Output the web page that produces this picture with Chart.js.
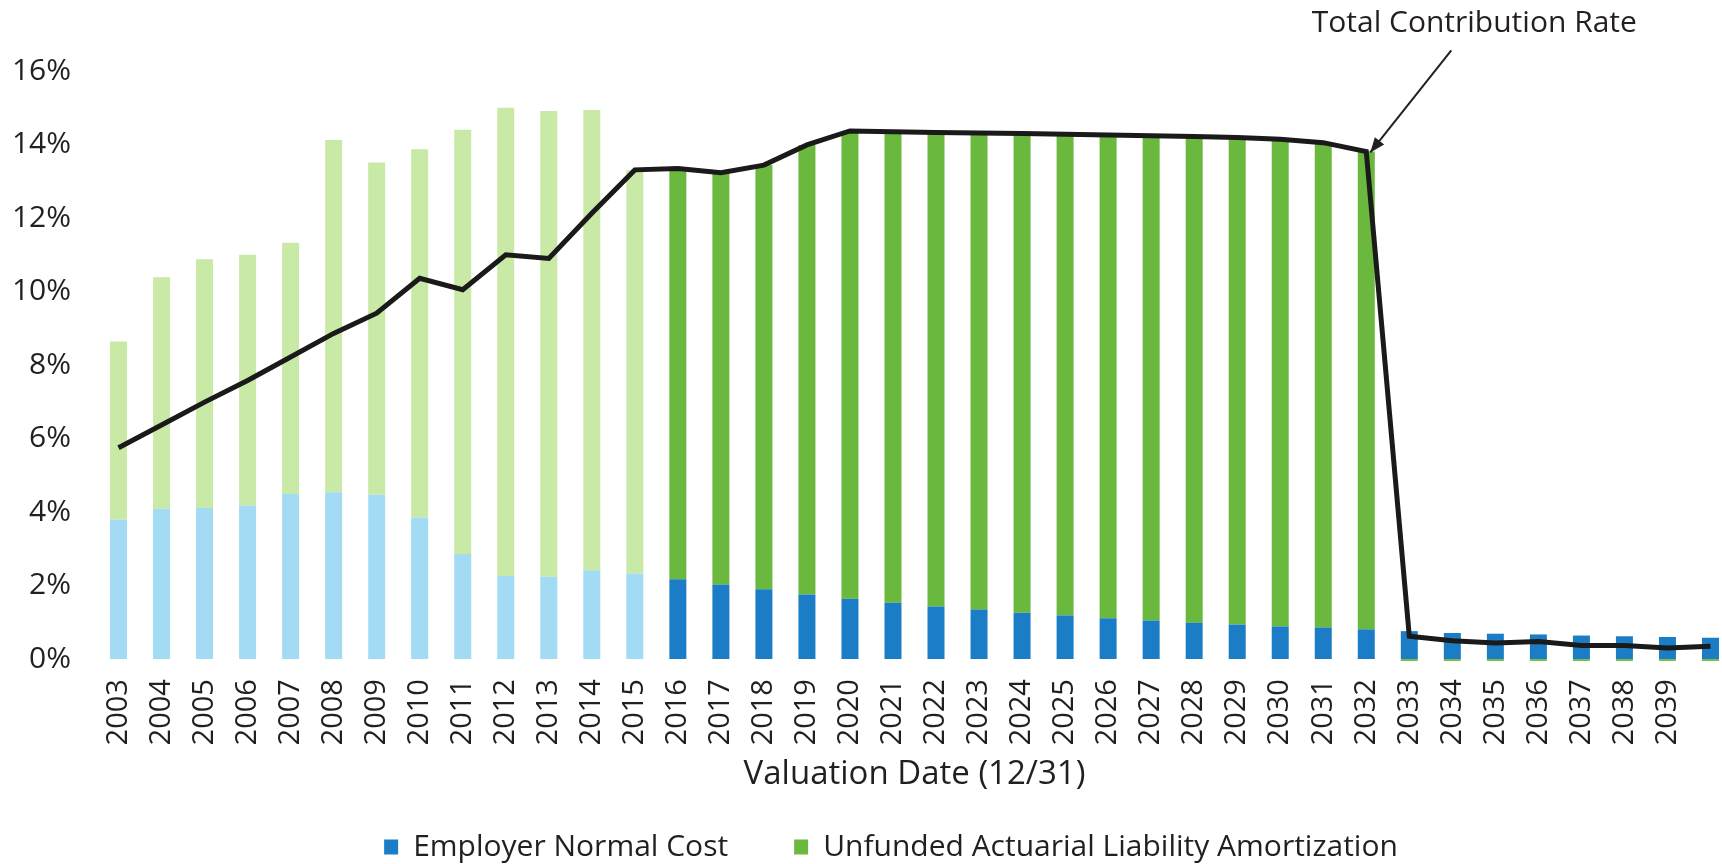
<!DOCTYPE html>
<html>
<head>
<meta charset="utf-8">
<script src="https://cdn.jsdelivr.net/npm/chart.js@4.4.1/dist/chart.umd.min.js"></script>
<style>
  html, body { margin: 0; padding: 0; background: #fff; overflow: hidden; }
</style>
</head>
<body>
<canvas id="myChart" width="1732" height="864"></canvas>
<script>
'use strict';

// valuation years (last bar has no label in the original)
let years = ['2003', '2004', '2005', '2006', '2007', '2008', '2009', '2010', '2011', '2012',
  '2013', '2014', '2015', '2016', '2017', '2018', '2019', '2020', '2021', '2022',
  '2023', '2024', '2025', '2026', '2027', '2028', '2029', '2030', '2031', '2032',
  '2033', '2034', '2035', '2036', '2037', '2038', '2039', ''];

// % of pay
let normalCost = [3.79, 4.09, 4.11, 4.18, 4.49, 4.54, 4.47, 3.85, 2.86, 2.26,
  2.24, 2.42, 2.33, 2.17, 2.03, 1.90, 1.76, 1.64, 1.53, 1.43,
  1.35, 1.26, 1.19, 1.11, 1.05, 0.99, 0.94, 0.89, 0.86, 0.81,
  0.76, 0.71, 0.69, 0.67, 0.64, 0.62, 0.60, 0.58];

// after 2032 the amortization is a tiny sliver below zero
let ualAmortization = [4.85, 6.30, 6.77, 6.82, 6.84, 9.58, 9.04, 10.02, 11.54, 12.74,
  12.67, 12.52, 10.97, 11.18, 11.20, 11.54, 12.23, 12.73, 12.82, 12.90,
  12.96, 13.04, 13.09, 13.15, 13.19, 13.23, 13.25, 13.25, 13.19, 13.00,
  -0.05, -0.05, -0.05, -0.05, -0.05, -0.05, -0.05, -0.05];

let totalRate = [5.75, 6.37, 6.99, 7.58, 8.22, 8.86, 9.41, 10.36, 10.05, 11.00,
  10.90, 12.13, 13.31, 13.35, 13.23, 13.44, 13.99, 14.37, 14.35, 14.33,
  14.31, 14.30, 14.28, 14.26, 14.24, 14.22, 14.19, 14.14, 14.05, 13.81,
  0.62, 0.50, 0.44, 0.48, 0.37, 0.37, 0.30, 0.35];

let yTicks = [0, 2, 4, 6, 8, 10, 12, 14, 16];

// first 13 years (2003-2015) are historical and drawn in lighter shades
let historicalYears = 13;
let annotationText = 'Total Contribution Rate';

let fontFamily = '"Open Sans", "Noto Sans", sans-serif';
let textColor = '#231f20';

function shade(light, dark) {
  let colors = [];
  for (let i = 0; i < years.length; i++) {
    colors.push(i < historicalYears ? light : dark);
  }
  return colors;
}

// draws the "Total Contribution Rate" label with an arrow to the 2032 point
let arrowNote = {
  id: 'arrowNote',
  afterDatasetsDraw(chart) {
    let ctx = chart.ctx;
    let x = chart.scales.x;
    let y = chart.scales.y;
    let idx = years.indexOf('2032');
    let tipX = x.getPixelForValue(idx) + 4;
    let tipY = y.getPixelForValue(totalRate[idx]) + 1;
    let startX = tipX + 81;
    let startY = tipY - 102;

    ctx.save();
    ctx.strokeStyle = '#231f20';
    ctx.fillStyle = '#231f20';
    ctx.lineWidth = 2;
    ctx.beginPath();
    ctx.moveTo(startX, startY);
    ctx.lineTo(tipX, tipY);
    ctx.stroke();

    // arrow head
    let angle = Math.atan2(tipY - startY, tipX - startX);
    let len = 16;
    let spread = 0.38;
    ctx.beginPath();
    ctx.moveTo(tipX, tipY);
    ctx.lineTo(tipX - len * Math.cos(angle - spread), tipY - len * Math.sin(angle - spread));
    ctx.lineTo(tipX - len * Math.cos(angle + spread), tipY - len * Math.sin(angle + spread));
    ctx.closePath();
    ctx.fill();

    ctx.font = '30px ' + fontFamily;
    ctx.textAlign = 'center';
    ctx.textBaseline = 'middle';
    ctx.fillText(annotationText, tipX + 104, 23);
    ctx.restore();
  }
};

// the original legend sits a little right of the canvas centre
let legendNudge = {
  id: 'legendNudge',
  afterLayout(chart) {
    chart.legend.left += 25;
    chart.legend.right += 25;
  }
};

const ctx = document.getElementById('myChart');

new Chart(ctx, {
  type: 'bar',
  data: {
    labels: years,
    datasets: [
      {
        type: 'line',
        label: annotationText,
        data: totalRate,
        borderColor: '#1a1a1a',
        borderWidth: 5,
        pointRadius: 0,
        tension: 0,
        fill: false,
        stack: 'total',
        order: 0
      },
      {
        label: 'Employer Normal Cost',
        data: normalCost,
        backgroundColor: shade('#a2dbf3', '#1a7dc5'),
        stack: 'rate',
        order: 1
      },
      {
        label: 'Unfunded Actuarial Liability Amortization',
        data: ualAmortization,
        backgroundColor: shade('#c9e9a6', '#6bb83e'),
        stack: 'rate',
        clip: false,
        order: 2
      }
    ]
  },
  options: {
    responsive: false,
    animation: false,
    layout: { padding: { top: 71, left: 0, right: 0, bottom: -8 } },
    datasets: {
      bar: { barPercentage: 0.395, categoryPercentage: 1 }
    },
    plugins: {
      tooltip: { enabled: false },
      legend: {
        position: 'bottom',
        labels: {
          generateLabels: chart => {
            let sets = chart.data.datasets;
            return [1, 2].map(i => ({
              text: sets[i].label,
              fillStyle: sets[i].backgroundColor[years.length - 9],
              strokeStyle: 'rgba(0,0,0,0)',
              lineWidth: 0,
              fontColor: textColor,
              datasetIndex: i
            }));
          },
          boxWidth: 14,
          boxHeight: 15,
          padding: 66,
          color: textColor,
          font: { family: fontFamily, size: 30 }
        }
      }
    },
    scales: {
      x: {
        stacked: true,
        grid: { display: false },
        border: { display: false },
        // let the plot run to the canvas edges like the original
        afterFit: axis => {
          axis.paddingLeft = 0;
          axis.paddingRight = 0;
        },
        ticks: {
          autoSkip: false,
          minRotation: 90,
          maxRotation: 90,
          padding: 12,
          color: textColor,
          font: { family: fontFamily, size: 29 }
        },
        title: {
          display: true,
          text: 'Valuation Date (12/31)',
          color: textColor,
          padding: { top: -3, bottom: -28 },
          font: { family: fontFamily, size: 33 }
        }
      },
      y: {
        stacked: true,
        min: 0,
        max: 16,
        grid: { display: false },
        border: { display: false },
        afterBuildTicks: axis => {
          axis.ticks = yTicks.map(v => ({ value: v }));
        },
        // fixed axis width so the first bar sits where it does in the original
        afterFit: axis => {
          axis.width = 97;
        },
        ticks: {
          padding: 18,
          color: textColor,
          font: { family: fontFamily, size: 30 },
          callback: v => v + '%'
        }
      }
    }
  },
  plugins: [arrowNote, legendNudge]
});
</script>
</body>
</html>
